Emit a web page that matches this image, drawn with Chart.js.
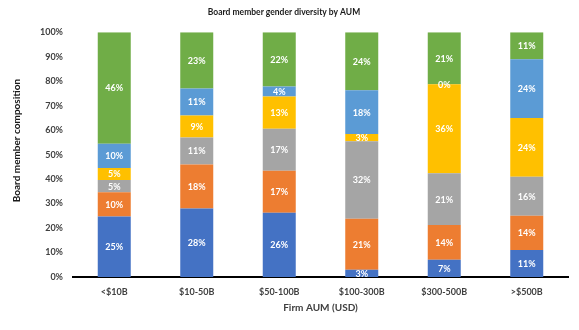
<!DOCTYPE html>
<html>
<head>
<meta charset="utf-8">
<script src="https://cdn.jsdelivr.net/npm/chart.js@4"></script>
<style>
  html, body { margin: 0; padding: 0; background: #fff; }
  #wrap { width: 579px; height: 330px; position: relative; }
</style>
</head>
<body>
<div id="wrap"><canvas id="chart"></canvas></div>
<script>
// board composition per AUM bucket, percent of seats
var categories = ['<$10B', '$10-50B', '$50-100B', '$100-300B', '$300-500B', '>$500B'];
var seriesA = [25, 28, 26, 3, 7, 11];
var seriesB = [10, 18, 17, 21, 14, 14];
var seriesC = [5, 11, 17, 32, 21, 16];
var seriesD = [5, 9, 13, 3, 36, 24];
var seriesE = [10, 11, 4, 18, 0, 24];
var seriesF = [46, 23, 22, 24, 21, 11];
var yTicks = [0, 10, 20, 30, 40, 50, 60, 70, 80, 90, 100];
var yTitle = 'Board member composition';

var FONT = 'Lato, "Open Sans", sans-serif';
var allSeries = [seriesA, seriesB, seriesC, seriesD, seriesE, seriesF];

// 100% stacked: each bar is scaled to its column total (rounded labels
// don't always add to exactly 100)
var totals = categories.map(function(c, j) {
    return allSeries.reduce(function(s, arr) { return s + arr[j]; }, 0);
});

function dataset(values, color) {
    return {
        data: values.map(function(v, j) { return v / totals[j] * 100; }),
        raw: values,
        backgroundColor: color,
        borderWidth: 0,
        barPercentage: 0.4,
        categoryPercentage: 1.0
    };
}

// white value labels in the middle of each segment, plus the y title
var segmentLabels = {
    id: 'segmentLabels',
    afterDatasetsDraw: function(chart) {
        var ctx = chart.ctx;
        ctx.save();
        ctx.font = 'bold 9px ' + FONT;
        ctx.fillStyle = '#ffffff';
        ctx.textAlign = 'center';
        ctx.textBaseline = 'middle';
        chart.data.datasets.forEach(function(ds, i) {
            var meta = chart.getDatasetMeta(i);
            meta.data.forEach(function(bar, j) {
                var yMid = (bar.y + bar.base) / 2;
                ctx.fillText(ds.raw[j] + '%', bar.x, yMid + 0.5);
            });
        });
        ctx.restore();
    },
    afterDraw: function(chart) {
        var ctx = chart.ctx;
        var area = chart.chartArea;
        ctx.save();
        ctx.translate(17, (area.top + area.bottom) / 2 - 14);
        ctx.rotate(-Math.PI / 2);
        ctx.font = 'bold 10px ' + FONT;
        ctx.fillStyle = '#1a1a1a';
        ctx.textAlign = 'center';
        ctx.textBaseline = 'middle';
        ctx.fillText(yTitle, 0, 0);
        ctx.restore();
    }
};

new Chart(document.getElementById('chart'), {
    type: 'bar',
    data: {
        labels: categories,
        datasets: [
            dataset(seriesA, '#4472C4'),
            dataset(seriesB, '#ED7D31'),
            dataset(seriesC, '#A5A5A5'),
            dataset(seriesD, '#FFC000'),
            dataset(seriesE, '#5B9BD5'),
            dataset(seriesF, '#70AD47')
        ]
    },
    options: {
        responsive: true,
        maintainAspectRatio: false,
        animation: false,
        layout: { padding: { left: 0, right: 11, top: 0, bottom: 0 } },
        plugins: {
            legend: { display: false },
            tooltip: { enabled: false },
            title: {
                display: true,
                text: 'Board member gender diversity by AUM',
                color: '#1a1a1a',
                font: { family: FONT, size: 8.5, weight: 'bold' },
                padding: { top: 7, bottom: 15 }
            }
        },
        scales: {
            x: {
                stacked: true,
                grid: { display: false, drawTicks: false },
                border: { display: true, color: '#000000', width: 2 },
                ticks: {
                    color: '#404040',
                    font: { family: FONT, size: 9, weight: 'bold' },
                    padding: 10,
                    maxRotation: 0
                },
                title: {
                    display: true,
                    text: 'Firm AUM (USD)',
                    color: '#404040',
                    font: { family: FONT, size: 10, weight: 'bold' },
                    padding: { top: 4, bottom: 16 }
                },
                afterFit: function(scale) { scale.height = 53; }
            },
            y: {
                stacked: true,
                min: 0,
                max: 100,
                afterBuildTicks: function(scale) {
                    scale.ticks = yTicks.map(function(v) { return { value: v }; });
                },
                grid: { display: false, drawTicks: false },
                border: { display: false },
                ticks: {
                    color: '#404040',
                    font: { family: FONT, size: 9, weight: 'bold' },
                    padding: 10,
                    callback: function(v) { return v + '%'; }
                },
                afterFit: function(scale) { scale.width = 73; }
            }
        }
    },
    plugins: [segmentLabels]
});
</script>
</body>
</html>
